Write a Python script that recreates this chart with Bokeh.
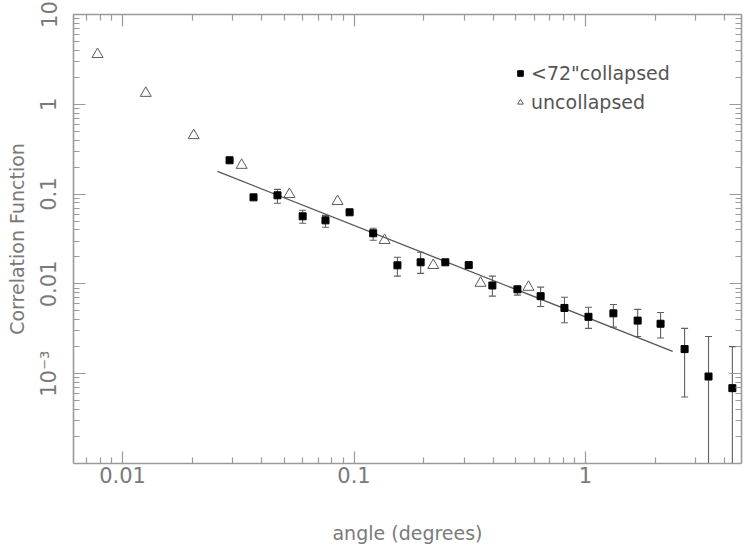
from bokeh.plotting import figure
from bokeh.models import (ColumnDataSource, Whisker, TeeHead, LogAxis, FixedTicker,
                          CustomJSTickFormatter, Legend, LegendItem, Range1d)
from bokeh.embed import file_html
from bokeh.resources import INLINE

# ---- data ----
tri_x = [0.0078, 0.0126, 0.0203, 0.0327, 0.0526, 0.0849, 0.1355, 0.220, 0.352, 0.567]
tri_y = [3.6, 1.33, 0.45, 0.21, 0.0995, 0.083, 0.0306, 0.0161, 0.0102, 0.0092]

sq_x = [0.029, 0.0368, 0.0467, 0.060, 0.0753, 0.0957, 0.121, 0.154, 0.194, 0.248, 0.313,
        0.396, 0.508, 0.640, 0.811, 1.03, 1.32, 1.68, 2.11, 2.68, 3.40, 4.31]
sq_y = [0.238, 0.092, 0.097, 0.0566, 0.051, 0.0627, 0.0366, 0.0161, 0.0174, 0.0174, 0.0162,
        0.0096, 0.0087, 0.0073, 0.0054, 0.0043, 0.0047, 0.0039, 0.0036, 0.00188, 0.00093, 0.00069]
sq_hi = [0.245, 0.095, 0.113, 0.066, 0.058, 0.065, 0.0416, 0.0198, 0.0225, 0.0180, 0.0172,
         0.0122, 0.0094, 0.0092, 0.0071, 0.0055, 0.0059, 0.0052, 0.0048, 0.0032, 0.0026, 0.0020]
sq_lo = [0.231, 0.089, 0.079, 0.0473, 0.0427, 0.0605, 0.0306, 0.0122, 0.0131, 0.0168, 0.0152,
         0.0073, 0.0075, 0.0056, 0.0037, 0.0032, 0.0033, 0.0026, 0.0025, 0.00055, 1e-6, 1e-6]

fit_x = [0.0257, 2.38]
fit_y = [0.179, 0.00177]

x_major = [0.01, 0.1, 1]
y_major = [1e-3, 1e-2, 1e-1, 1, 10]

FONT = "DejaVu Sans"
TXT = "#7a7a7a"
AX = "#9a9a9a"

p = figure(width=744, height=546, x_axis_type="log", y_axis_type="log",
           x_range=Range1d(0.00614, 4.72), y_range=Range1d(1e-4, 10),
           output_backend="svg", toolbar_location=None,
           min_border_left=73, min_border_right=3, min_border_top=14, min_border_bottom=83)
p.xgrid.visible = False
p.ygrid.visible = False
p.outline_line_color = None
p.background_fill_color = "white"

x_minor = [m * 10.0 ** e for e in (-3, -2, -1, 0) for m in range(2, 10)]
y_minor = [m * 10.0 ** e for e in (-4, -3, -2, -1, 0) for m in range(2, 10)]

yfmt = CustomJSTickFormatter(code="""
const e = Math.round(Math.log10(tick));
if (e == 1) return '10';
if (e == 0) return '1';
if (e == -1) return '0.1';
if (e == -2) return '0.01';
return '10\u207b\u00b3';
""")
xfmt = CustomJSTickFormatter(code="""
const e = Math.round(Math.log10(tick));
if (e == 0) return '1';
if (e == -1) return '0.1';
return '0.01';
""")


def style_axis(ax):
    ax.axis_line_color = AX
    ax.axis_line_width = 1.6
    ax.major_tick_line_color = AX
    ax.minor_tick_line_color = AX
    ax.major_tick_line_width = 1.2
    ax.minor_tick_line_width = 1.2
    ax.major_tick_in = 12
    ax.major_tick_out = 0
    ax.minor_tick_in = 6
    ax.minor_tick_out = 0
    ax.major_label_text_color = TXT
    ax.major_label_text_font = FONT
    ax.axis_label_text_color = TXT
    ax.axis_label_text_font = FONT
    ax.axis_label_text_font_style = "normal"


xa = p.xaxis[0]
style_axis(xa)
xa.ticker = FixedTicker(ticks=x_major, minor_ticks=x_minor)
xa.formatter = xfmt
xa.major_label_text_font_size = "21px"
xa.major_label_standoff = 3
xa.axis_label = "angle (degrees)"
xa.axis_label_text_font_size = "19px"
xa.axis_label_standoff = 36

ya = p.yaxis[0]
style_axis(ya)
ya.ticker = FixedTicker(ticks=y_major, minor_ticks=y_minor)
ya.formatter = yfmt
ya.major_label_orientation = "vertical"
ya.major_label_text_font_size = "21px"
ya.major_label_standoff = 12
ya.axis_label = "Correlation Function"
ya.axis_label_text_font_size = "19px"
ya.axis_label_standoff = 7

top = LogAxis(ticker=FixedTicker(ticks=x_major, minor_ticks=x_minor))
style_axis(top)
top.major_label_text_font_size = "1px"
top.major_label_text_alpha = 0
top.major_label_standoff = 0
p.add_layout(top, "above")

right = LogAxis(ticker=FixedTicker(ticks=y_major, minor_ticks=y_minor))
style_axis(right)
right.major_label_text_font_size = "1px"
right.major_label_text_alpha = 0
right.major_label_standoff = 0
p.add_layout(right, "right")

src = ColumnDataSource(dict(x=sq_x, y=sq_y, hi=sq_hi, lo=sq_lo))
wh = Whisker(source=src, base="x", upper="hi", lower="lo", dimension="height",
             line_color="#606060", line_width=1.1,
             upper_head=TeeHead(size=7, line_color="#606060", line_width=1.1),
             lower_head=TeeHead(size=7, line_color="#606060", line_width=1.1))
p.add_layout(wh)

fit = p.line(fit_x, fit_y, line_color="#555555", line_width=1.3)

sq = p.scatter("x", "y", source=src, marker="square", size=7,
               fill_color="black", line_color="black")
tri = p.scatter(tri_x, tri_y, marker="triangle", size=11,
                fill_color=None, line_color="#5a5a5a", line_width=1)

legend = Legend(items=[LegendItem(label='<72"collapsed', renderers=[sq]),
                       LegendItem(label="uncollapsed", renderers=[tri])],
                location=(440, 350), padding=0, margin=0, spacing=7,
                glyph_width=14, glyph_height=20, label_height=20, label_standoff=4,
                label_text_font=FONT, label_text_font_size="19px",
                label_text_color="#555555",
                border_line_alpha=0, background_fill_alpha=0)
p.add_layout(legend)

open("out.html", "w").write(file_html(p, INLINE))
